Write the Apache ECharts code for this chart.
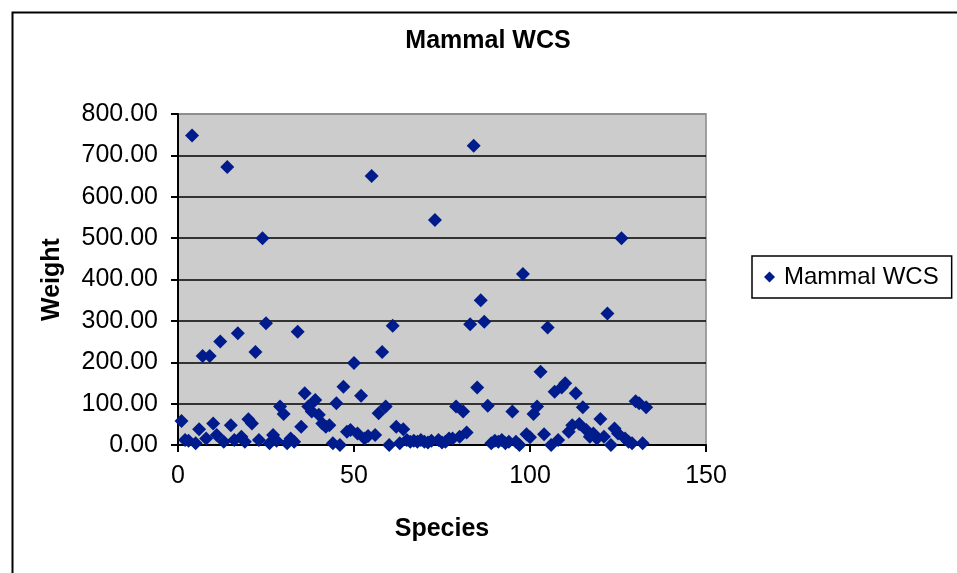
<!DOCTYPE html>
<html>
<head>
<meta charset="utf-8">
<script src="https://cdn.jsdelivr.net/npm/echarts@6/dist/echarts.min.js"></script>
<style>html,body{margin:0;padding:0;background:#fff}#c{width:957px;height:573px}</style>
</head>
<body>
<div id="c"></div>
<script>
const chartTitle = 'Mammal WCS';
const seriesName = 'Mammal WCS';
const xName = 'Species';
const yName = 'Weight';
const species = [];
for (let i = 1; i <= 133; i++) species.push(i);
const weights = [
  58, 12, 10, 748, 4, 38, 215, 16, 215, 52,
  24, 250, 8, 672, 48, 12, 270, 20, 8, 62,
  52, 225, 12, 500, 294, 4, 24, 10, 93, 75,
  4, 16, 8, 274, 44, 125, 93, 81, 109, 73,
  52, 44, 48, 4, 101, 0, 141, 32, 36, 198,
  28, 119, 16, 22, 650, 24, 77, 225, 93, 0,
  288, 44, 4, 38, 12, 8, 10, 8, 12, 8,
  6, 10, 544, 12, 6, 8, 16, 16, 93, 20,
  81, 30, 292, 723, 139, 350, 298, 95, 4, 10,
  8, 12, 4, 8, 81, 8, 0, 413, 26, 19,
  75, 93, 177, 26, 284, 0, 129, 12, 139, 149,
  32, 48, 125, 51, 91, 36, 20, 28, 16, 63,
  20, 318, 0, 40, 28, 500, 16, 8, 4, 106,
  101, 4, 91
];
const xTicks = { min: 0, max: 150, interval: 50 };
const yTicks = { min: 0, max: 800, interval: 100 };

const data = species.map((s, i) => [s, weights[i]]);
const FONT = "'Liberation Sans', Arial, sans-serif";
const chart = echarts.init(document.getElementById('c'));
const splitColors = [];
for (let v = yTicks.min; v <= yTicks.max; v += yTicks.interval) splitColors.push(v === yTicks.max ? '#888888' : '#000000');

chart.setOption({
  animation: false,
  backgroundColor: '#ffffff',
  graphic: [{
    type: 'rect', left: 10, top: 10, z: 0,
    shape: { width: 1000, height: 600 },
    style: { fill: 'none', stroke: '#000', lineWidth: 2 }
  }],
  title: {
    text: chartTitle, left: 483, top: 24, textAlign: 'center',
    textStyle: { fontFamily: FONT, fontSize: 25, fontWeight: 'bold', color: '#000' }
  },
  legend: {
    data: [seriesName], left: 752, top: 256, orient: 'vertical',
    borderColor: '#000', borderWidth: 1.5, padding: [9, 13, 9, 12],
    icon: 'diamond', itemWidth: 11, itemHeight: 11, itemGap: 8,
    textStyle: { fontFamily: FONT, fontSize: 24, color: '#000', padding: [0, 0, 0, 4] }
  },
  grid: {
    left: 178, right: 251, top: 114, bottom: 128,
    show: true, backgroundColor: '#cccccc', borderColor: '#888888', borderWidth: 1.5
  },
  xAxis: {
    type: 'value', min: xTicks.min, max: xTicks.max, interval: xTicks.interval,
    name: xName, nameLocation: 'middle', nameGap: 72,
    nameTextStyle: { fontFamily: FONT, fontSize: 25, fontWeight: 'bold', color: '#000' },
    axisLine: { show: true, onZero: false, lineStyle: { color: '#000', width: 2 } },
    axisTick: { show: true, length: 7, lineStyle: { color: '#000', width: 2 } },
    axisLabel: { margin: 19, fontFamily: FONT, fontSize: 25, color: '#000' },
    splitLine: { show: false }
  },
  yAxis: {
    type: 'value', min: yTicks.min, max: yTicks.max, interval: yTicks.interval,
    name: yName, nameLocation: 'middle', nameGap: 113, nameRotate: 90,
    nameTextStyle: { fontFamily: FONT, fontSize: 25, fontWeight: 'bold', color: '#000' },
    axisLine: { show: true, lineStyle: { color: '#000', width: 2 } },
    axisTick: { show: true, length: 7, lineStyle: { color: '#000', width: 2 } },
    axisLabel: { margin: 20, fontFamily: FONT, fontSize: 25, color: '#000',
      formatter: v => v.toFixed(2) },
    splitLine: { show: true, lineStyle: { color: splitColors, width: 1.5 } }
  },
  series: [{
    name: seriesName, type: 'scatter', data: data,
    symbol: 'diamond', symbolSize: 14,
    itemStyle: { color: '#001c8c', opacity: 1 }
  }]
});
</script>
</body>
</html>
